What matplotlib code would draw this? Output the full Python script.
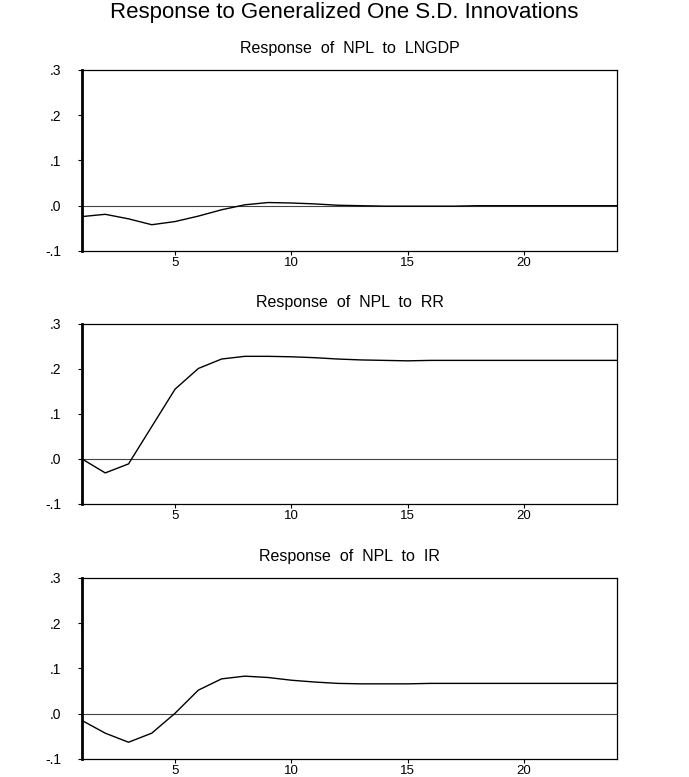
import numpy as np
import matplotlib.pyplot as plt
from matplotlib.ticker import FuncFormatter

plt.rcParams['font.family'] = ['Liberation Sans', 'DejaVu Sans']

# Impulse response values (periods 1..24)
periods = np.arange(1, 25)
resp_lngdp = [-0.024, -0.019, -0.029, -0.042, -0.035, -0.023, -0.009, 0.002,
              0.007, 0.006, 0.004, 0.001, 0.0, -0.001, -0.001, -0.001,
              -0.001, 0.0, 0.0, 0.0, 0.0, 0.0, 0.0, 0.0]
resp_rr = [0.0, -0.031, -0.011, 0.072, 0.155, 0.201, 0.222, 0.228,
           0.228, 0.227, 0.225, 0.222, 0.220, 0.219, 0.218, 0.219,
           0.219, 0.219, 0.219, 0.219, 0.219, 0.219, 0.219, 0.219]
resp_ir = [-0.015, -0.043, -0.063, -0.043, 0.001, 0.052, 0.077, 0.083,
           0.080, 0.074, 0.070, 0.067, 0.066, 0.066, 0.066, 0.067,
           0.067, 0.067, 0.067, 0.067, 0.067, 0.067, 0.067, 0.067]

panels = [
    ('Response  of  NPL  to  LNGDP', resp_lngdp),
    ('Response  of  NPL  to  RR', resp_rr),
    ('Response  of  NPL  to  IR', resp_ir),
]
yticks = [-0.1, 0.0, 0.1, 0.2, 0.3]
xticks = [5, 10, 15, 20]


def eviews_fmt(v, pos):
    s = f"{v:.1f}"
    return s.replace("0.", ".")


fig = plt.figure(figsize=(6.89, 7.77), dpi=100)
fig.text(0.5, 0.984, 'Response to Generalized One S.D. Innovations',
         ha='center', va='center', fontsize=16)

boxes = [(0.119, 0.677, 0.7765, 0.233),
         (0.119, 0.3514, 0.7765, 0.2317),
         (0.119, 0.0232, 0.7765, 0.233)]

for (title, vals), box in zip(panels, boxes):
    ax = fig.add_axes(box)
    ax.plot(periods, vals, color='black', linewidth=1.0)
    ax.axhline(0, color='#444444', linewidth=0.8, zorder=1)
    ax.set_xlim(1, 24)
    ax.set_ylim(-0.1, 0.3)
    ax.set_xticks(xticks)
    ax.set_yticks(yticks)
    ax.yaxis.set_major_formatter(FuncFormatter(eviews_fmt))
    ax.tick_params(direction='out', length=3, width=0.8)
    ax.tick_params(axis='x', pad=1, labelsize=9.5)
    ax.tick_params(axis='y', pad=12, labelsize=10)
    for side in ['top', 'right', 'bottom']:
        ax.spines[side].set_linewidth(0.9)
    ax.spines['left'].set_linewidth(2.0)
    ax.set_title(title, fontsize=11.5, pad=12)

plt.savefig('out.png', dpi=100)
